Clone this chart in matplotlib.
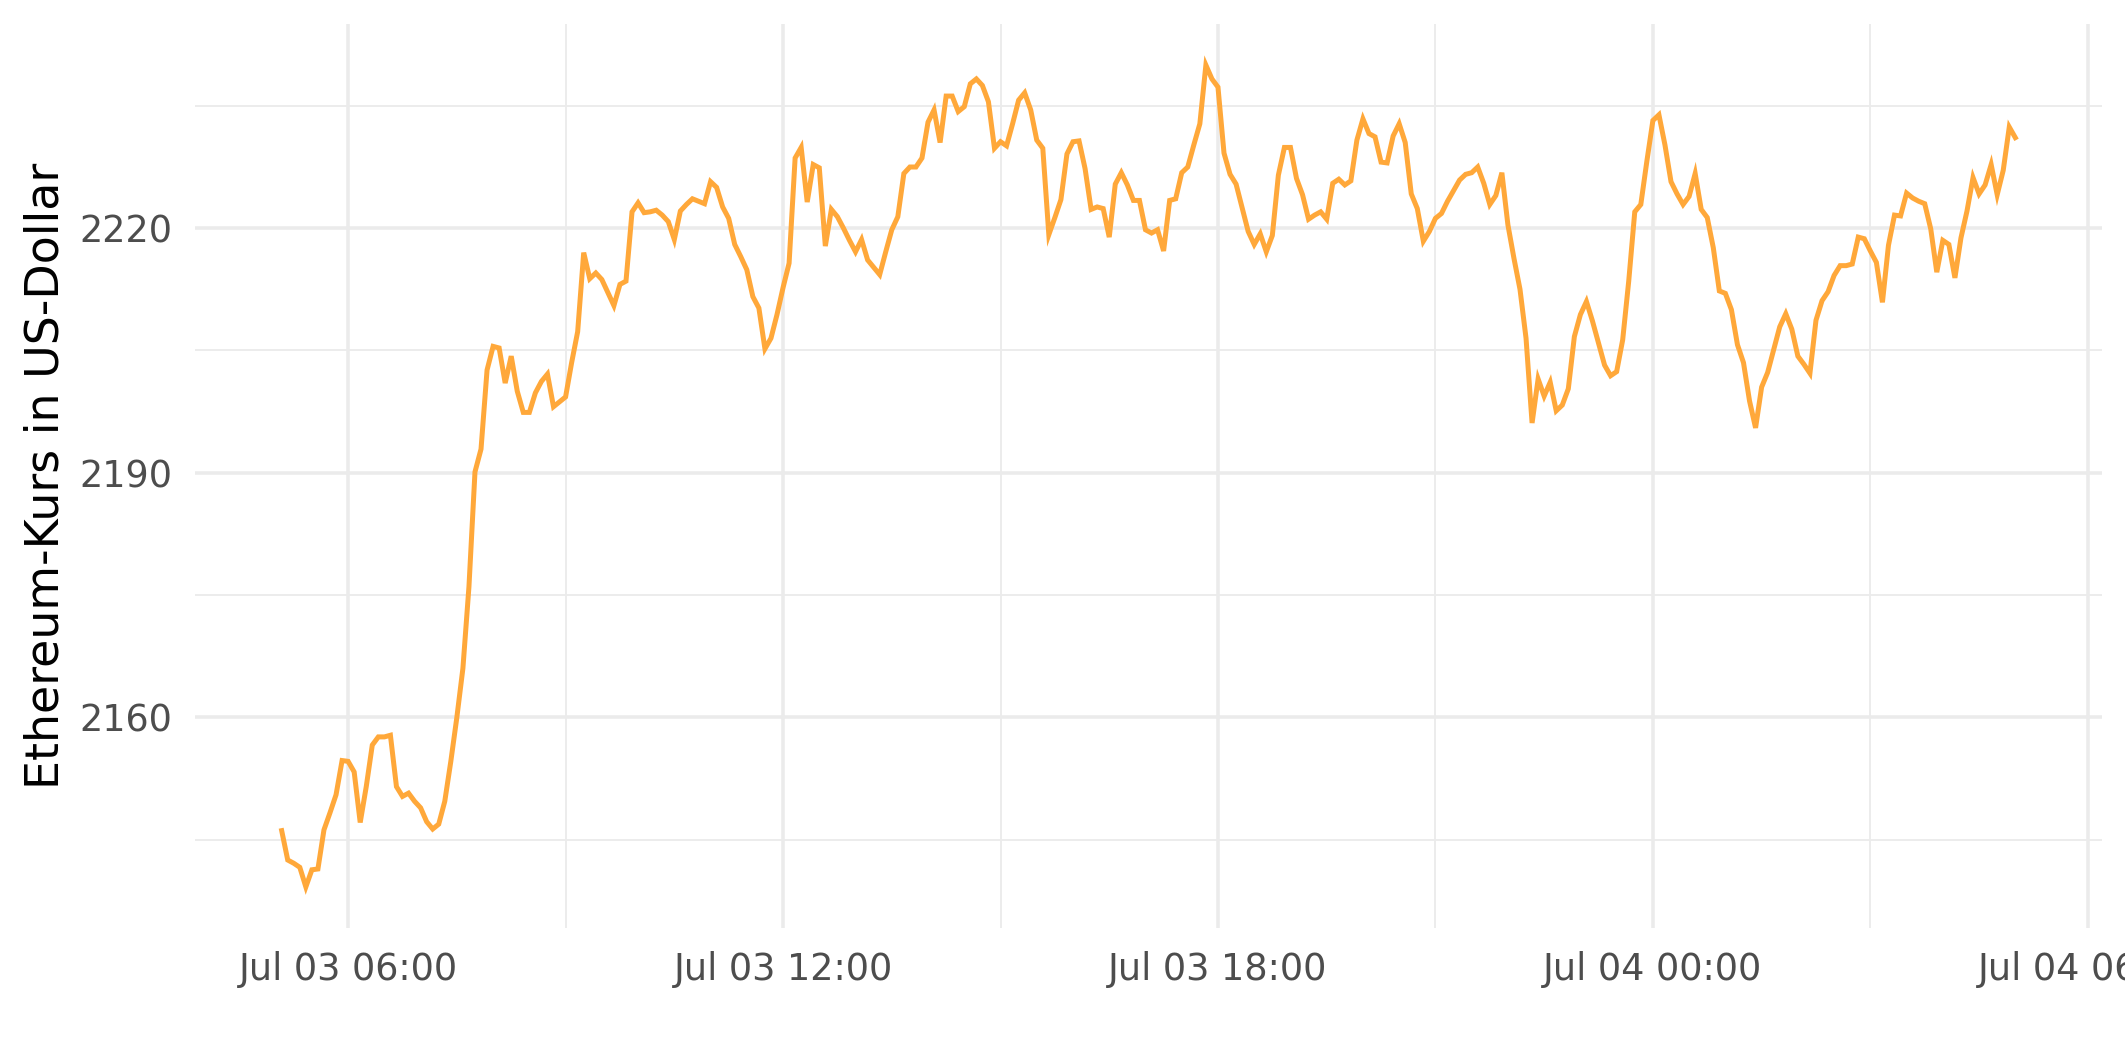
import matplotlib
matplotlib.use('Agg')
import matplotlib.pyplot as plt
import matplotlib.dates as mdates
import pandas as pd

# Ethereum price, 5-minute steps from Jul 03 05:05 to Jul 04 05:00
start = '2021-07-03 05:05'
step = '5min'
price = [
    2146.1, 2142.5, 2142.1, 2141.6, 2139.2, 2141.3, 2141.4, 2146.2, 2148.3, 2150.5,
    2154.7, 2154.6, 2153.3, 2147.1, 2151.5, 2156.6, 2157.6, 2157.6, 2157.8, 2151.5,
    2150.3, 2150.7, 2149.7, 2148.9, 2147.2, 2146.3, 2146.9, 2149.7, 2154.6, 2160.0,
    2166.0, 2176.0, 2190.1, 2192.9, 2202.6, 2205.5, 2205.3, 2201.0, 2204.3, 2200.0,
    2197.4, 2197.4, 2199.8, 2201.2, 2202.1, 2198.1, 2198.7, 2199.3, 2203.5, 2207.3,
    2217.0, 2213.8, 2214.5, 2213.7, 2212.1, 2210.5, 2213.1, 2213.5, 2222.0, 2223.1,
    2221.9, 2222.0, 2222.2, 2221.6, 2220.8, 2218.6, 2222.1, 2222.9, 2223.6, 2223.3,
    2223.0, 2225.7, 2225.0, 2222.6, 2221.2, 2218.0, 2216.5, 2214.9, 2211.6, 2210.2,
    2205.2, 2206.5, 2209.4, 2212.7, 2215.7, 2228.6, 2229.9, 2223.2, 2227.8, 2227.4,
    2217.8, 2222.3, 2221.4, 2220.0, 2218.5, 2217.1, 2218.6, 2216.1, 2215.2, 2214.3,
    2217.1, 2219.8, 2221.4, 2226.7, 2227.5, 2227.5, 2228.6, 2233.0, 2234.5, 2230.5,
    2236.2, 2236.2, 2234.3, 2234.9, 2237.7, 2238.3, 2237.5, 2235.5, 2229.8, 2230.6,
    2230.1, 2232.8, 2235.7, 2236.6, 2234.5, 2230.8, 2229.8, 2219.2, 2221.3, 2223.5,
    2229.1, 2230.6, 2230.7, 2227.3, 2222.3, 2222.6, 2222.4, 2218.9, 2225.4, 2226.8,
    2225.3, 2223.4, 2223.4, 2219.8, 2219.4, 2219.8, 2217.2, 2223.4, 2223.6, 2226.8,
    2227.5, 2230.2, 2232.8, 2240.0, 2238.3, 2237.3, 2229.2, 2226.6, 2225.4, 2222.5,
    2219.6, 2218.0, 2219.3, 2217.1, 2219.1, 2226.5, 2229.9, 2229.9, 2226.1, 2224.1,
    2221.1, 2221.6, 2222.0, 2221.1, 2225.5, 2226.0, 2225.3, 2225.8, 2230.8, 2233.4,
    2231.6, 2231.2, 2228.1, 2228.0, 2231.3, 2232.8, 2230.5, 2224.2, 2222.4, 2218.4,
    2219.6, 2221.2, 2221.8, 2223.3, 2224.6, 2225.9, 2226.6, 2226.8, 2227.5, 2225.5,
    2222.9, 2224.0, 2226.8, 2220.4, 2216.3, 2212.5, 2206.5, 2196.1, 2201.5, 2199.4,
    2201.1, 2197.6, 2198.3, 2200.3, 2206.7, 2209.4, 2211.0, 2208.6, 2205.9, 2203.2,
    2201.9, 2202.4, 2206.3, 2213.5, 2222.0, 2222.9, 2228.2, 2233.2, 2233.9, 2230.2,
    2225.7, 2224.2, 2222.9, 2223.9, 2226.7, 2222.3, 2221.3, 2217.6, 2212.3, 2212.0,
    2210.0, 2205.7, 2203.5, 2198.8, 2195.5, 2200.5, 2202.3, 2205.1, 2207.9, 2209.5,
    2207.6, 2204.3, 2203.3, 2202.2, 2208.7, 2211.1, 2212.2, 2214.2, 2215.4, 2215.4,
    2215.6, 2218.9, 2218.7, 2217.2, 2215.8, 2210.9, 2217.9, 2221.6, 2221.5, 2224.3,
    2223.7, 2223.3, 2223.0, 2219.9, 2214.6, 2218.5, 2218.0, 2213.9, 2218.8, 2222.1,
    2226.2, 2224.2, 2225.3, 2227.8, 2224.1, 2227.1, 2232.4, 2231.1,
]
time = pd.date_range(start, periods=len(price), freq=step)

y_major = [2160, 2190, 2220]
y_minor = [2145, 2175, 2205, 2235]
y_title = 'Ethereum-Kurs in US-Dollar'

grid_col = '#EBEBEB'
text_col = '#4D4D4D'

fig = plt.figure(figsize=(2125/300, 1062/300), dpi=300)
ax = fig.add_axes([195/2125, 134/1062, 1907/2125, 904/1062])

ax.plot(time, price, color='#FFA83A', linewidth=1.2, solid_joinstyle='miter', zorder=3)
ax.margins(x=0.05, y=0.05)

# axes ticks, like ggplot theme_minimal
ax.set_yticks(y_major)
ax.set_yticks(y_minor, minor=True)
ax.xaxis.set_major_locator(mdates.HourLocator(byhour=[0, 6, 12, 18]))
ax.xaxis.set_minor_locator(mdates.HourLocator(byhour=[3, 9, 15, 21]))
ax.xaxis.set_major_formatter(mdates.DateFormatter('%b %d %H:%M'))

ax.grid(which='major', color=grid_col, linewidth=0.85)
ax.grid(which='minor', color=grid_col, linewidth=0.45)
ax.set_axisbelow(True)
for s in ax.spines.values():
    s.set_visible(False)
ax.tick_params(which='both', length=0, labelsize=8.8, labelcolor=text_col, pad=5.5)

ax.set_ylabel(y_title, fontsize=11, color='black', labelpad=2.5)

fig.savefig('out.png', dpi=300)
